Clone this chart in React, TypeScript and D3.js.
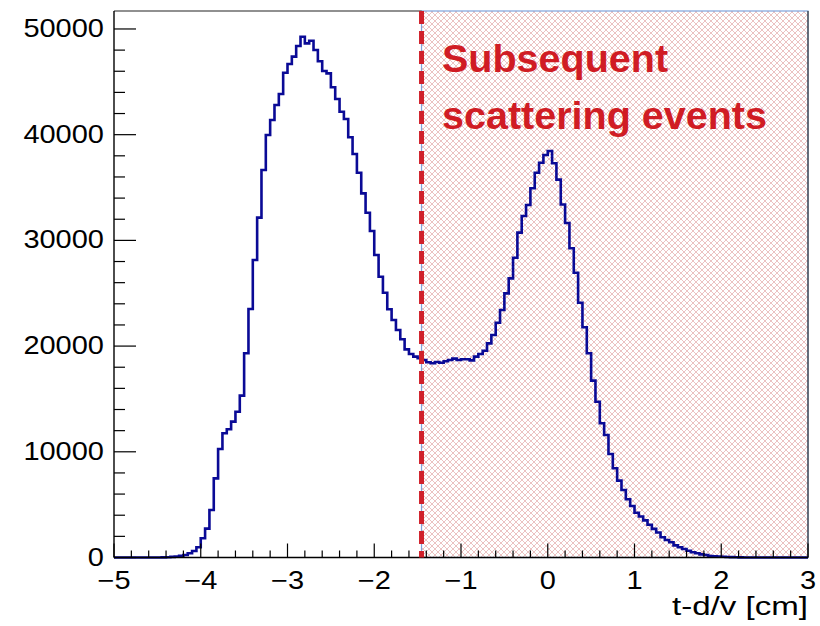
import React from "react";
import * as d3 from "d3";

// Histogram: bins of width 0.05 from -5 to 3; non-zero counts start at binStart
const binWidth = 0.05;
const xDomain = [-5, 3];
const binStart = -4.45;
const counts = [
  15, 30, 60, 100, 160, 240, 400, 620, 970, 1820,
  2730, 4490, 7490, 10260, 11750, 12130, 12850, 13790, 15310, 19320,
  23510, 28140, 32150, 36660, 39970, 41390, 42810, 43850, 45860, 46690,
  47380, 48390, 49270, 48640, 48890, 48010, 46940, 46020, 45800, 44480,
  43380, 42170, 41480, 39750, 38170, 36400, 34450, 32620, 30890, 28620,
  26560, 25050, 23480, 22470, 21520, 20640, 19690, 19250, 19000, 18850,
  18680, 18470, 18370, 18490, 18430, 18560, 18680, 18810, 18680, 18750,
  18750, 18650, 19000, 19250, 19560, 20260, 21050, 22210, 23410, 24990,
  26410, 28360, 30730, 32310, 33350, 34930, 36400, 37350, 38080, 38450,
  37290, 35750, 33400, 31650, 29250, 26940, 24100, 21780, 19320, 16730,
  14740, 12700, 11590, 9790, 8440, 7270, 6390, 5510, 4870, 4240,
  3880, 3510, 3100, 2710, 2360, 1910, 1660, 1440, 1150, 970,
  800, 640, 490, 400, 300, 240, 140, 110, 90, 70,
  50, 35, 20, 10,
];
const yMax = 51700;
const yTicks = [0, 10000, 20000, 30000, 40000, 50000];
const xTicks = [-5, -4, -3, -2, -1, 0, 1, 2, 3];
const cutX = -1.455;
const annotation = ["Subsequent", "scattering events"];
const xTitle = "t-d/v [cm]";

export default function App() {
  const left = 114, right = 808, top = 11, bottom = 557.5;
  const x = d3.scaleLinear().domain(xDomain).range([left, right]);
  const y = d3.scaleLinear().domain([0, yMax]).range([bottom, top]);

  const nBins = Math.round((xDomain[1] - xDomain[0]) / binWidth);
  const startIdx = Math.round((binStart - xDomain[0]) / binWidth);
  const all: number[] = [];
  for (let i = 0; i < nBins; i++) {
    const k = i - startIdx;
    all.push(k >= 0 && k < counts.length ? counts[k] : 0);
  }
  const pts: [number, number][] = [];
  all.forEach((v, i) => {
    const x0 = xDomain[0] + i * binWidth;
    pts.push([x(x0), y(v)]);
    pts.push([x(x0 + binWidth), y(v)]);
  });
  const histPath = d3.line()(pts) || "";

  const yMinor = d3.range(0, yMax + 1, 2000);
  const xMinor = d3.range(0, 41).map((i) => xDomain[0] + i * 0.2);

  const cx = x(cutX);
  const font = "'Liberation Sans', Arial, Helvetica, sans-serif";

  return (
    <svg
      width={820}
      height={626}
      style={{ position: "absolute", left: 0, top: 0, background: "#fff" }}
    >
      <defs>
        <pattern id="hatch" width={6} height={6} patternUnits="userSpaceOnUse">
          <path d="M0,0 L6,6 M6,0 L0,6" stroke="#e6b3b3" strokeWidth={0.8} fill="none" />
        </pattern>
      </defs>
      <rect x={0} y={0} width={820} height={626} fill="#fff" />
      {/* hatched region */}
      <rect
        x={cx}
        y={top}
        width={right - cx}
        height={bottom - top}
        fill="url(#hatch)"
        stroke="#7fa3dc"
        strokeWidth={1.2}
      />
      {/* frame */}
      <line x1={left} y1={top} x2={cx} y2={top} stroke="#222" strokeWidth={1.2} />
      <line x1={right} y1={top} x2={right} y2={bottom} stroke="#333" strokeWidth={1.2} />
      {/* histogram */}
      <path d={histPath} fill="none" stroke="#0a0a96" strokeWidth={2.6} strokeLinejoin="miter" />
      {/* axes */}
      <line x1={left} y1={top} x2={left} y2={bottom} stroke="#000" strokeWidth={1.4} />
      <line x1={left} y1={bottom} x2={right} y2={bottom} stroke="#000" strokeWidth={1.6} />
      {yMinor.map((v) => (
        <line
          key={"ym" + v}
          x1={left}
          x2={left + (v % 10000 === 0 ? 22 : 11)}
          y1={y(v)}
          y2={y(v)}
          stroke="#000"
          strokeWidth={1.2}
        />
      ))}
      {xMinor.map((v, i) => (
        <line
          key={"xm" + i}
          x1={x(v)}
          x2={x(v)}
          y1={bottom}
          y2={bottom - (i % 5 === 0 ? 14 : 7)}
          stroke="#000"
          strokeWidth={1.2}
        />
      ))}
      {yTicks.map((v) => (
        <text
          key={"yl" + v}
          transform={`translate(104,${y(v) - 1}) scale(1.16,1)`}
          textAnchor="end"
          dy="0.36em"
          fontFamily={font}
          fontSize={25}
          fill="#000"
        >
          {v}
        </text>
      ))}
      {xTicks.map((v) => (
        <text
          key={"xl" + v}
          transform={`translate(${x(v)},589) scale(1.16,1)`}
          textAnchor="middle"
          fontFamily={font}
          fontSize={25}
          fill="#000"
        >
          {v < 0 ? "\u2212" + Math.abs(v) : String(v)}
        </text>
      ))}
      <text
        x={808}
        y={615}
        textAnchor="end"
        fontFamily={font}
        fontSize={25}
        textLength={136}
        lengthAdjust="spacingAndGlyphs"
        fill="#000"
      >
        {xTitle}
      </text>
      {/* cut line */}
      <line
        x1={cx}
        x2={cx}
        y1={top}
        y2={bottom}
        stroke="#d0202a"
        strokeWidth={5}
        strokeDasharray="13 7"
      />
      {annotation.map((t, i) => (
        <text
          key={t}
          x={442}
          y={72 + i * 57}
          fontFamily={font}
          fontWeight="bold"
          fontSize={39.5}
          fill="#d01c24"
        >
          {t}
        </text>
      ))}
    </svg>
  );
}
